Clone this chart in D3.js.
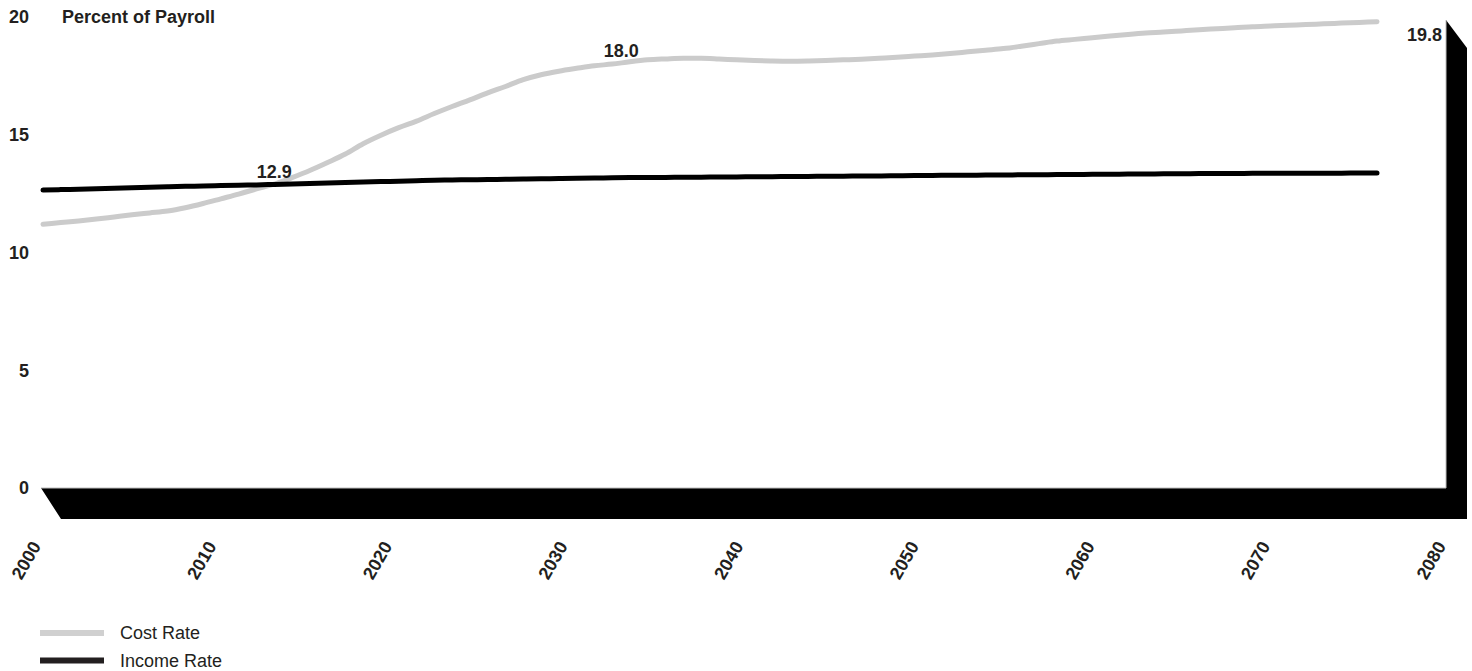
<!DOCTYPE html>
<html>
<head>
<meta charset="utf-8">
<script src="https://cdn.jsdelivr.net/npm/d3@7/dist/d3.min.js"></script>
<style>
  html, body { margin: 0; padding: 0; background: #fff; }
  svg { display: block; }
  text { font-family: "Liberation Sans", Arial, sans-serif; fill: #231f20; }
</style>
</head>
<body>
<svg id="chart" width="1472" height="671"></svg>
<script>
// Projected OASDI cost and income rates, percent of taxable payroll
const years = d3.range(2005, 2081);
const costRate = [
  11.20, 11.27, 11.34, 11.42, 11.51, 11.60, 11.68, 11.76, 11.90, 12.08,
  12.28, 12.48, 12.70, 12.90, 13.18, 13.48, 13.82, 14.18, 14.62, 14.98,
  15.30, 15.58, 15.90, 16.20, 16.48, 16.78, 17.05, 17.34, 17.55, 17.70,
  17.82, 17.93, 18.00, 18.10, 18.18, 18.22, 18.25, 18.25, 18.22, 18.18,
  18.15, 18.13, 18.12, 18.13, 18.15, 18.18, 18.21, 18.25, 18.29, 18.34,
  18.39, 18.45, 18.52, 18.59, 18.66, 18.76, 18.87, 18.98, 19.05, 19.12,
  19.19, 19.26, 19.32, 19.36, 19.41, 19.46, 19.50, 19.54, 19.59, 19.62,
  19.65, 19.68, 19.71, 19.74, 19.77, 19.80
];
const incomeRate = [
  12.65, 12.67, 12.69, 12.71, 12.73, 12.75, 12.77, 12.79, 12.81, 12.82,
  12.84, 12.86, 12.87, 12.89, 12.91, 12.93, 12.95, 12.97, 12.99, 13.01,
  13.03, 13.05, 13.07, 13.08, 13.09, 13.10, 13.11, 13.12, 13.13, 13.14,
  13.15, 13.16, 13.17, 13.18, 13.19, 13.19, 13.20, 13.20, 13.21, 13.21,
  13.22, 13.22, 13.23, 13.23, 13.24, 13.24, 13.25, 13.25, 13.26, 13.27,
  13.27, 13.28, 13.28, 13.29, 13.29, 13.30, 13.30, 13.31, 13.31, 13.32,
  13.32, 13.33, 13.33, 13.34, 13.34, 13.35, 13.35, 13.35, 13.36, 13.36,
  13.36, 13.37, 13.37, 13.37, 13.38, 13.38
];
const axisYears = [2000, 2010, 2020, 2030, 2040, 2050, 2060, 2070, 2080];
const yTicks = [0, 5, 10, 15, 20];
const valueLabels = [
  { series: "cost", year: 2018, text: "12.9" },
  { series: "cost", year: 2037, text: "18.0" },
  { series: "cost", year: 2080, text: "19.8" }
];
const legendItems = ["Cost Rate", "Income Rate"];
const seriesColors = { cost: "#cbcbcb", income: "#000000" };

const svg = d3.select("#chart");

// Scales: back plane for the category axis, plotting scale for the lines
const xAxisScale = d3.scaleLinear().domain([2000, 2080]).range([41, 1446]);
const xLine = d3.scaleLinear().domain([2005, 2080]).range([43, 1377]);
const y = d3.scaleLinear().domain([0, 20]).range([488, 17]);
const depth = { dx: 21, dy: 31 };

// 3-D floor and right wall
const fl = xAxisScale(2000), fr = xAxisScale(2080), fy = y(0), wt = y(20) + 3;
svg.append("path")
  .attr("d", d3.line()([
    [fl, fy], [fr, fy], [fr, wt], [fr + depth.dx, wt + depth.dy - 3],
    [fr + depth.dx, fy + depth.dy], [fl + depth.dx - 1, fy + depth.dy]
  ]) + "Z")
  .attr("fill", "#000");
svg.append("path")
  .attr("d", d3.line()([[fl, fy], [fr, fy], [fr, wt]]))
  .attr("fill", "none").attr("stroke", "#bdbdbd").attr("stroke-width", 1);

// Y axis labels
svg.append("g").selectAll("text").data(yTicks).join("text")
  .attr("x", 29).attr("y", d => y(d)).attr("dy", "0.35em")
  .attr("text-anchor", "end")
  .style("font-size", "18px").style("font-weight", "bold")
  .text(d => d);

svg.append("text")
  .attr("x", 62).attr("y", y(20)).attr("dy", "0.35em")
  .style("font-size", "18px").style("font-weight", "bold")
  .text("Percent of Payroll");

// X axis labels, rotated
svg.append("g").selectAll("text").data(axisYears).join("text")
  .attr("transform", d => `translate(${xAxisScale(d) - 5},543) rotate(-60)`)
  .attr("dy", "0.35em").attr("text-anchor", "end")
  .style("font-size", "18px").style("font-weight", "bold")
  .text(d => d);

// Series lines
const line = d3.line()
  .x((d, i) => xLine(years[i]))
  .y(d => y(d))
  .curve(d3.curveMonotoneX);

svg.append("path").datum(costRate)
  .attr("d", line).attr("fill", "none")
  .attr("stroke", seriesColors.cost).attr("stroke-width", 5)
  .attr("stroke-linecap", "round").attr("stroke-linejoin", "round");

svg.append("path").datum(incomeRate)
  .attr("d", line).attr("fill", "none")
  .attr("stroke", seriesColors.income).attr("stroke-width", 5)
  .attr("stroke-linecap", "round").attr("stroke-linejoin", "round");

// Value labels on the cost rate line
svg.append("g").selectAll("text").data(valueLabels).join("text")
  .attr("x", d => d.year === 2080 ? xLine(d.year) + 65 : xLine(d.year) + (d.year === 2037 ? 9 : 0))
  .attr("y", d => {
    const v = costRate[years.indexOf(d.year)];
    return d.year === 2080 ? y(v) + 13 : y(v) - 13;
  })
  .attr("dy", "0.35em")
  .attr("text-anchor", d => d.year === 2080 ? "end" : "middle")
  .style("font-size", "18px").style("font-weight", "bold")
  .text(d => d.text);

// Legend
const legend = svg.append("g");
legendItems.forEach((name, i) => {
  const ly = 633 + i * 27.5;
  legend.append("line")
    .attr("x1", 40).attr("x2", 104).attr("y1", ly).attr("y2", ly)
    .attr("stroke", i === 0 ? "#d0d0d0" : "#231f20").attr("stroke-width", 6);
  legend.append("text")
    .attr("x", 120).attr("y", ly).attr("dy", "0.35em")
    .style("font-size", "18px")
    .text(name);
});
</script>
</body>
</html>
